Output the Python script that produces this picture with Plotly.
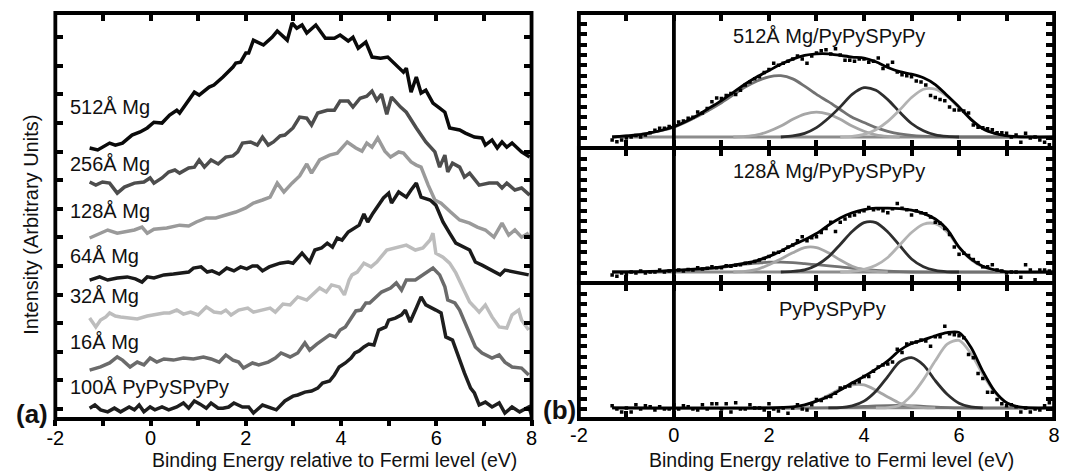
import plotly.graph_objects as go

W, H = 1067, 472
FONT = "Liberation Sans, Arial, Helvetica, sans-serif"

# ---------------- data: panel (a) ----------------
L512 = [(-1.28,9.13),(-1.11,9.06),(-0.86,9.30),(-0.74,9.23),(-0.59,9.30),(-0.39,9.58),(-0.22,9.69),(-0.07,9.83),
        (0.07,10.03),(0.24,10.0),(0.40,10.28),(0.55,10.45),(0.61,10.35),(0.80,10.80),(0.92,11.08),(1.02,10.98),
        (1.23,11.26),(1.33,11.33),(1.52,11.61),(1.73,11.96),(1.79,12.10),(1.89,12.13),(2.00,12.45),(2.06,12.45),
        (2.16,12.90),(2.37,12.73),(2.55,13.0),(2.66,13.22),(2.87,12.90),(2.97,13.50),(3.07,13.32),(3.18,13.43),
        (3.28,13.15),(3.47,13.43),(3.67,12.97),(3.86,12.97),(3.98,13.08),(4.15,12.87),(4.25,13.0),(4.36,12.62),
        (4.52,12.83),(4.65,12.31),(4.83,12.27),(4.98,12.31),(5.10,12.13),(5.31,11.78),(5.37,11.92),(5.47,11.08),
        (5.58,11.61),(5.68,11.05),(5.78,11.15),(5.93,10.70),(6.07,10.52),(6.18,10.38),(6.28,9.83),(6.49,9.76),
        (6.61,9.65),(6.80,9.51),(6.96,9.48),(7.03,9.23),(7.17,9.41),(7.28,9.13),(7.38,9.34),(7.48,9.16),
        (7.59,9.30),(7.79,8.99),(7.96,8.81)]
L256 = [(-1.28,7.94),(-1.15,7.83),(-1.01,7.94),(-0.86,7.90),(-0.70,7.55),(-0.55,7.76),(-0.34,7.90),(-0.14,7.94),
        (-0.01,8.08),(0.07,7.90),(0.24,8.08),(0.38,8.29),(0.51,8.36),(0.61,8.25),(0.80,8.43),(0.92,8.46),
        (1.02,8.71),(1.13,8.46),(1.27,8.71),(1.42,8.57),(1.58,8.81),(1.73,8.85),(1.83,8.99),(1.93,9.30),
        (2.10,9.34),(2.24,9.23),(2.35,9.51),(2.47,9.23),(2.58,9.34),(2.72,9.55),(2.82,9.58),(2.99,9.83),
        (3.13,10.21),(3.28,10.17),(3.38,9.93),(3.51,10.35),(3.71,10.45),(3.86,10.45),(3.98,10.77),(4.15,10.77),
        (4.25,10.56),(4.40,10.87),(4.54,10.94),(4.65,11.12),(4.75,10.80),(4.85,11.01),(4.96,10.31),(5.06,10.91),
        (5.25,10.56),(5.37,10.38),(5.58,9.83),(5.78,9.34),(5.97,8.99),(6.07,8.46),(6.18,8.88),(6.24,8.29),
        (6.34,8.60),(6.49,8.46),(6.59,8.11),(6.70,8.25),(6.90,7.83),(7.11,7.90),(7.28,7.90),(7.38,7.73),
        (7.48,7.90),(7.65,7.66),(7.79,7.73),(7.96,7.48)]
L128 = [(-1.28,5.98),(-0.90,6.26),(-0.70,6.15),(-0.34,6.26),(-0.18,6.36),(-0.07,6.15),(0.07,6.29),(0.34,6.33),
        (0.61,6.43),(0.80,6.40),(0.96,6.54),(1.17,6.68),(1.37,6.68),(1.58,6.78),(1.79,6.89),(2.00,7.03),
        (2.16,7.20),(2.35,7.31),(2.51,7.41),(2.66,7.90),(2.80,7.59),(2.97,7.90),(3.13,8.15),(3.28,8.57),
        (3.38,8.25),(3.55,8.71),(3.76,8.88),(3.92,8.95),(4.13,9.34),(4.31,9.13),(4.44,9.02),(4.54,9.30),
        (4.65,9.16),(4.77,9.48),(4.92,9.02),(5.04,8.81),(5.21,8.99),(5.31,8.95),(5.47,8.64),(5.58,8.53),
        (5.68,8.46),(5.83,7.83),(5.97,7.31),(6.10,7.20),(6.20,7.03),(6.30,6.89),(6.49,6.61),(6.70,6.50),
        (6.86,6.36),(7.03,6.26),(7.21,6.01),(7.38,6.50),(7.52,6.08),(7.65,6.26),(7.79,6.01),(7.94,6.15)]
L64 = [(-1.28,4.51),(-1.07,4.62),(-0.90,4.51),(-0.70,4.58),(-0.49,4.62),(-0.32,4.55),(-0.18,4.44),(-0.07,4.62),
       (0.07,4.58),(0.28,4.69),(0.48,4.72),(0.65,4.76),(0.80,4.79),(0.90,4.93),(1.06,4.97),(1.19,4.79),
       (1.29,4.83),(1.44,4.72),(1.60,4.93),(1.75,4.83),(1.89,4.97),(2.02,4.90),(2.14,5.0),(2.24,5.0),
       (2.35,4.83),(2.49,4.97),(2.58,5.03),(2.72,5.10),(2.89,5.14),(2.99,5.10),(3.18,5.45),(3.34,5.14),
       (3.45,5.56),(3.59,5.63),(3.71,5.80),(3.82,5.66),(3.92,5.98),(4.02,5.91),(4.15,6.19),(4.27,6.33),
       (4.38,6.43),(4.48,6.82),(4.56,6.54),(4.67,6.85),(4.89,7.38),(5.00,7.55),(5.06,7.20),(5.21,7.59),
       (5.37,7.41),(5.47,7.66),(5.58,7.90),(5.68,7.41),(5.87,7.31),(5.99,7.13),(6.14,6.54),(6.28,6.15),
       (6.41,5.80),(6.70,5.56),(6.82,5.14),(6.96,5.03),(7.17,4.86),(7.34,4.69),(7.44,4.86),(7.69,4.79),
       (7.94,4.69)]
L32 = [(-1.28,3.18),(-1.15,2.87),(-1.05,3.11),(-0.94,3.22),(-0.86,3.36),(-0.74,3.25),(-0.63,3.22),(-0.45,3.18),
       (-0.28,3.15),(-0.07,3.25),(0.07,3.29),(0.28,3.36),(0.40,3.36),(0.55,3.46),(0.69,3.32),(0.84,3.39),
       (1.00,3.29),(1.17,3.57),(1.33,3.39),(1.48,3.36),(1.58,3.46),(1.69,3.29),(1.85,3.46),(2.04,3.53),
       (2.16,3.39),(2.35,3.46),(2.51,3.53),(2.62,3.39),(2.78,3.67),(2.93,3.64),(3.09,3.92),(3.28,3.81),
       (3.45,4.09),(3.55,4.23),(3.69,4.09),(3.80,4.34),(3.96,4.27),(4.07,3.99),(4.17,4.51),(4.23,4.69),
       (4.34,4.79),(4.48,5.10),(4.63,4.97),(4.75,5.14),(4.96,5.56),(5.25,5.66),(5.37,5.73),(5.56,5.56),
       (5.72,5.63),(5.87,5.91),(5.93,6.15),(5.99,5.45),(6.14,5.31),(6.28,5.10),(6.41,4.76),(6.55,4.27),
       (6.70,3.74),(6.80,3.57),(6.90,3.39),(7.03,3.64),(7.17,3.22),(7.32,2.87),(7.48,2.83),(7.59,3.29),
       (7.73,3.46),(7.79,3.11),(7.94,2.76)]
L16 = [(-1.28,1.36),(-1.05,1.47),(-0.86,1.61),(-0.70,1.82),(-0.59,1.71),(-0.43,1.47),(-0.28,1.64),(-0.14,1.54),
       (-0.01,1.78),(0.13,1.64),(0.28,1.75),(0.48,1.71),(0.69,1.78),(0.90,1.75),(1.11,1.82),(1.27,1.75),
       (1.44,1.64),(1.58,1.89),(1.73,1.71),(1.85,1.64),(1.95,1.43),(2.14,1.61),(2.27,1.54),(2.47,1.64),
       (2.62,1.78),(2.74,1.96),(2.93,1.82),(3.09,1.96),(3.24,2.31),(3.34,2.06),(3.49,2.27),(3.61,2.41),
       (3.76,2.59),(3.88,2.52),(3.98,2.76),(4.09,2.87),(4.19,3.11),(4.31,3.43),(4.42,3.46),(4.52,3.71),
       (4.60,3.71),(4.73,3.92),(4.85,4.09),(5.04,4.23),(5.16,4.41),(5.27,4.16),(5.37,4.51),(5.56,4.51),
       (5.72,4.69),(5.87,4.86),(5.93,4.93),(6.07,4.69),(6.18,4.27),(6.24,3.81),(6.39,3.71),(6.49,3.46),
       (6.61,3.01),(6.72,2.59),(6.82,2.17),(6.96,1.96),(7.17,1.78),(7.32,1.89),(7.44,1.64),(7.59,1.47),
       (7.79,1.43),(7.94,1.19)]
L100 = [(-1.28,0.03),(-1.17,0.14),(-1.05,-0.03),(-0.90,-0.10),(-0.76,0.03),(-0.63,-0.10),(-0.45,0.07),(-0.34,-0.03),
        (-0.24,0.14),(-0.14,-0.10),(-0.01,0.07),(0.09,-0.03),(0.24,0.07),(0.38,-0.03),(0.55,0.07),(0.69,0.21),
        (0.80,0.03),(0.92,0.28),(1.04,0.17),(1.17,0.03),(1.27,0.21),(1.42,0.03),(1.52,0.03),(1.64,0.07),
        (1.75,0.21),(1.93,0.07),(2.06,0.07),(2.16,-0.14),(2.35,0.14),(2.51,0.03),(2.64,-0.03),(2.82,0.28),
        (2.99,0.45),(3.09,0.49),(3.24,0.59),(3.38,0.63),(3.51,0.73),(3.61,0.91),(3.76,0.98),(3.86,1.19),
        (3.96,1.47),(4.09,1.61),(4.21,1.78),(4.29,1.96),(4.38,2.03),(4.48,2.17),(4.58,2.27),(4.69,2.24),
        (4.79,2.76),(4.94,2.87),(5.00,3.11),(5.14,3.18),(5.27,3.29),(5.35,3.46),(5.45,3.04),(5.58,3.53),
        (5.68,3.92),(5.78,3.64),(5.89,3.53),(5.99,3.46),(6.10,3.36),(6.20,2.52),(6.34,2.41),(6.49,1.71),
        (6.59,1.26),(6.72,0.73),(6.80,0.56),(6.90,0.14),(7.03,0.24),(7.17,0.07),(7.32,0.21),(7.44,-0.14),
        (7.59,0.07),(7.75,-0.10),(7.94,0.07),(8.00,-0.21)]

LEFT_SERIES = [L512, L256, L128, L64, L32, L16, L100]
LEFT_COLORS = ["#0a0a0a", "#4d4d4d", "#9a9a9a", "#1a1a1a", "#bdbdbd", "#6b6b6b", "#1e1e1e"]
LEFT_LABELS = ["512Å Mg", "256Å Mg", "128Å Mg", "64Å Mg", "32Å Mg", "16Å Mg", "100Å PyPySPyPy"]
LEFT_LABEL_Y = [10.55, 8.56, 6.92, 5.34, 3.95, 2.34, 0.76]

# ---------------- data: panel (b) ----------------
E_DOTS = [-1.3,-1.2,-1.1,-1.0,-0.9,-0.8,-0.7,-0.6,-0.5,-0.4,
          -0.3,-0.2,-0.1,0.0,0.1,0.2,0.3,0.4,0.5,0.6,
          0.7,0.8,0.9,1.0,1.1,1.2,1.3,1.4,1.5,1.6,
          1.7,1.8,1.9,2.0,2.1,2.2,2.3,2.4,2.5,2.6,
          2.7,2.8,2.9,3.0,3.1,3.2,3.3,3.4,3.5,3.6,
          3.7,3.8,3.9,4.0,4.1,4.2,4.3,4.4,4.5,4.6,
          4.7,4.8,4.9,5.0,5.1,5.2,5.3,5.4,5.5,5.6,
          5.7,5.8,5.9,6.0,6.1,6.2,6.3,6.4,6.5,6.6,
          6.7,6.8,6.9,7.0,7.1,7.2,7.3,7.4,7.5,7.6,
          7.7,7.8,7.9]
DOTS_512 = [-0.2,-0.35,-0.2,0.0,0.1,0.25,0.1,0.3,0.5,0.75,
            0.95,0.95,1.1,1.3,1.55,1.65,1.9,2.0,2.5,2.4,
            2.85,3.5,3.85,3.8,4.1,4.3,4.2,4.6,5.1,5.4,
            5.7,5.9,6.3,6.6,7.2,7.0,7.2,7.4,7.6,7.9,
            7.6,7.2,7.9,8.2,8.4,8.5,8.1,8.6,8.0,7.5,
            7.5,7.4,7.6,7.6,7.3,7.4,7.7,6.7,7.0,7.3,
            6.35,6.1,6.0,5.9,5.5,5.4,5.1,4.1,3.9,3.7,
            3.6,3.0,2.7,2.7,2.6,2.4,1.25,1.05,1.0,0.9,
            0.8,0.5,0.5,0.45,0.1,0.3,-0.4,0.45,0.0,0.1,
            -0.2,-0.4,-0.65]
DOTS_128 = [-0.2,-0.3,0.0,-0.1,0.1,0.0,0.2,0.0,0.1,0.1,
            0.3,0.1,0.2,0.2,0.3,0.2,0.35,0.3,0.5,0.4,
            0.45,0.6,0.5,0.5,0.7,0.65,0.75,0.8,0.95,1.0,
            1.1,1.25,1.4,1.6,1.9,2.0,2.2,2.5,2.7,3.1,
            3.5,3.1,3.4,3.5,3.9,4.3,4.9,4.0,4.9,5.2,
            5.5,5.6,5.9,6.0,6.3,6.1,6.2,6.0,5.8,6.2,
            6.7,6.25,6.1,5.6,6.0,5.8,5.7,5.4,4.9,4.8,
            4.3,3.7,2.5,1.8,1.9,1.7,1.3,1.0,0.6,0.6,
            0.8,0.3,0.2,0.0,0.1,0.1,-0.4,0.8,0.3,-0.65,
            0.3,0.3,0.2]
DOTS_PY = [0.3,0.0,-0.3,0.1,-0.3,0.4,0.0,0.3,0.2,-0.1,
           0.2,0.0,0.0,0.4,0.0,0.3,0.2,0.0,-0.1,0.4,
           0.0,0.5,0.5,0.0,0.5,-0.3,0.6,0.0,0.0,0.4,
           0.1,0.1,-0.1,0.5,0.0,-0.2,0.1,-0.4,0.1,0.4,
           0.0,-0.1,0.4,0.9,0.8,1.1,1.2,1.5,2.0,2.1,
           2.2,2.5,2.6,3.1,3.1,3.6,4.0,4.2,4.3,4.5,
           5.7,5.4,6.2,6.3,6.4,6.6,6.5,6.0,6.9,6.9,
           7.9,7.2,7.1,7.0,6.8,5.2,4.9,3.4,2.9,1.6,
           1.6,0.9,0.5,0.3,0.4,0.2,-0.3,0.1,-0.3,0.0,
           -0.1,0.3,0.6]

BASELINE = [(-1.3,0.1),(8.0,0.1)]

FIT_512 = [(-1.3,0.1),(-1.0,0.2),(-0.75,0.3),(-0.5,0.5),(-0.25,0.75),(0.0,1.1),(0.25,1.6),(0.5,2.2),(0.75,2.9),
           (1.0,3.6),(1.25,4.4),(1.5,5.2),(1.75,5.9),(2.0,6.5),(2.25,7.1),(2.5,7.6),(2.75,7.95),(3.0,8.1),
           (3.25,8.1),(3.5,7.95),(3.75,7.8),(4.0,7.7),(4.25,7.35),(4.5,6.8),(4.75,6.4),(5.0,6.15),(5.25,5.8),
           (5.5,5.15),(5.75,4.1),(6.0,3.0),(6.25,1.8),(6.5,0.9),(6.75,0.45),(7.0,0.2),(7.5,0.1),(8.0,0.1)]
BROAD_512 = [(-1.3,0.1),(-1.0,0.2),(-0.5,0.5),(0.0,1.05),(0.5,2.1),(1.0,3.4),(1.5,4.9),(1.75,5.5),(2.0,5.9),
             (2.25,6.0),(2.5,5.7),(2.75,5.0),(3.0,4.2),(3.25,3.5),(3.5,2.75),(3.75,2.0),(4.0,1.5),(4.25,1.0),
             (4.5,0.65),(4.75,0.4),(5.0,0.25),(5.5,0.12),(6.0,0.1),(8.0,0.1)]
C2_512 = [(1.25,0.1),(1.5,0.15),(1.75,0.3),(2.0,0.65),(2.25,1.15),(2.5,1.8),(2.75,2.3),(3.0,2.5),(3.25,2.3),
          (3.5,1.8),(3.75,1.15),(4.0,0.65),(4.25,0.3),(4.5,0.15),(4.75,0.1)]
C3_512 = [(2.25,0.1),(2.5,0.2),(2.75,0.45),(3.0,1.0),(3.25,1.9),(3.5,3.0),(3.75,4.2),(4.0,4.85),(4.25,4.6),
          (4.5,3.7),(4.75,2.5),(5.0,1.4),(5.25,0.7),(5.5,0.3),(5.75,0.15),(6.0,0.1)]
C4_512 = [(3.5,0.1),(3.75,0.15),(4.0,0.35),(4.25,0.8),(4.5,1.6),(4.75,2.7),(5.0,3.9),(5.25,4.7),(5.5,4.7),
          (5.75,4.0),(6.0,2.9),(6.25,1.8),(6.5,0.95),(6.75,0.45),(7.0,0.2),(7.25,0.1)]

FIT_128 = [(-1.3,0.1),(-0.5,0.15),(0.0,0.25),(0.5,0.4),(1.0,0.6),(1.5,0.95),(1.75,1.2),(2.0,1.6),(2.25,2.1),
           (2.5,2.7),(2.75,3.2),(3.0,3.8),(3.25,4.6),(3.5,5.3),(3.75,5.8),(4.0,6.1),(4.25,6.25),(4.5,6.25),
           (4.75,6.2),(5.0,6.05),(5.25,5.75),(5.5,5.2),(5.75,4.2),(6.0,2.5),(6.25,1.35),(6.5,0.65),(6.75,0.3),
           (7.0,0.12),(8.0,0.1)]
BROAD_128 = [(-1.3,0.1),(0.0,0.15),(0.5,0.3),(1.0,0.55),(1.5,0.85),(1.75,0.95),(2.0,1.05),(2.25,1.05),(2.5,1.0),
             (2.75,0.9),(3.0,0.8),(3.5,0.6),(4.0,0.35),(4.5,0.18),(5.0,0.1),(8.0,0.1)]
C2_128 = [(1.25,0.1),(1.5,0.15),(1.75,0.35),(2.0,0.8),(2.25,1.35),(2.5,1.95),(2.75,2.45),(3.0,2.45),(3.25,1.95),
          (3.5,1.25),(3.75,0.65),(4.0,0.3),(4.25,0.15),(4.5,0.1)]
C3_128 = [(2.25,0.1),(2.5,0.15),(2.75,0.3),(3.0,0.75),(3.25,1.55),(3.5,2.75),(3.75,4.0),(4.0,4.85),(4.25,4.85),
          (4.5,3.95),(4.75,2.65),(5.0,1.35),(5.25,0.6),(5.5,0.25),(5.75,0.12),(6.0,0.1)]
C4_128 = [(3.5,0.1),(3.75,0.15),(4.0,0.35),(4.25,0.75),(4.5,1.5),(4.75,2.7),(5.0,3.9),(5.25,4.7),(5.5,4.75),
          (5.75,3.95),(6.0,2.45),(6.25,1.3),(6.5,0.6),(6.75,0.28),(7.0,0.12),(7.25,0.1)]

FIT_PY = [(-1.3,0.1),(2.0,0.1),(2.5,0.2),(2.75,0.4),(3.0,0.75),(3.25,1.2),(3.5,1.8),(3.75,2.5),(4.0,3.1),
          (4.25,3.8),(4.5,4.6),(4.75,5.6),(5.0,6.25),(5.25,6.6),(5.5,7.0),(5.75,7.3),(6.0,7.3),(6.25,5.9),
          (6.5,3.6),(6.75,1.7),(7.0,0.6),(7.25,0.2),(7.5,0.1),(8.0,0.1)]
BROAD_PY = [(-1.3,0.1),(3.5,0.12),(4.25,0.3),(4.75,0.35),(5.25,0.25),(6.0,0.1),(8.0,0.1)]
C2_PY = [(2.25,0.1),(2.5,0.15),(2.75,0.35),(3.0,0.75),(3.25,1.3),(3.5,1.9),(3.75,2.3),(4.0,2.3),(4.25,1.8),
         (4.5,1.15),(4.75,0.55),(5.0,0.25),(5.25,0.12),(5.5,0.1)]
C3_PY = [(3.25,0.1),(3.5,0.12),(3.75,0.3),(4.0,0.75),(4.25,1.7),(4.5,3.1),(4.75,4.5),(5.0,4.9),(5.25,4.2),
         (5.5,2.7),(5.75,1.4),(6.0,0.55),(6.25,0.2),(6.5,0.1)]
C4_PY = [(4.25,0.1),(4.5,0.12),(4.75,0.35),(5.0,1.3),(5.25,2.8),(5.5,4.6),(5.75,6.2),(6.0,6.55),(6.25,5.3),
         (6.5,3.3),(6.75,1.6),(7.0,0.6),(7.25,0.2),(7.5,0.1)]

RIGHT_PANELS = [
    dict(name="512Å Mg/PyPySPyPy", dots=DOTS_512, fit=FIT_512, broad=BROAD_512, c2=C2_512, c3=C3_512, c4=C4_512, lx=3.27, ly=9.85),
    dict(name="128Å Mg/PyPySPyPy", dots=DOTS_128, fit=FIT_128, broad=BROAD_128, c2=C2_128, c3=C3_128, c4=C4_128, lx=3.27, ly=9.85),
    dict(name="PyPySPyPy", dots=DOTS_PY, fit=FIT_PY, broad=BROAD_PY, c2=C2_PY, c3=C3_PY, c4=C4_PY, lx=3.33, ly=9.55),
]
COMP_COLORS = dict(base="#8c8c8c", broad="#727272", c2="#a6a6a6", c3="#2e2e2e", c4="#b3b3b3", fit="#000000")

X_TICKS = [-2, -1, 0, 1, 2, 3, 4, 5, 6, 7, 8]
X_TICKTEXT = ["-2", "", "0", "", "2", "", "4", "", "6", "", "8"]
LEFT_YTICKS = list(range(0, 14))
RIGHT_YTICKS = list(range(0, 12))

# ---------------- figure ----------------
fig = go.Figure()

def xy(pairs):
    return [p[0] for p in pairs], [p[1] for p in pairs]

for ser, col in zip(LEFT_SERIES, LEFT_COLORS):
    x, y = xy(ser)
    fig.add_trace(go.Scatter(x=x, y=y, mode="lines", line=dict(color=col, width=3.5),
                             xaxis="x", yaxis="y", showlegend=False, hoverinfo="skip"))
# invisible anchor trace so the top overlay axis of panel (a) is drawn
fig.add_trace(go.Scatter(x=[-2], y=[0], mode="markers", marker=dict(opacity=0),
                         xaxis="x5", yaxis="y", showlegend=False, hoverinfo="skip"))

for i, pn in enumerate(RIGHT_PANELS):
    xa, ya = "x%d" % (i + 2), "y%d" % (i + 2)
    for key in ["base", "broad", "c2", "c3", "c4", "fit"]:
        pairs = BASELINE if key == "base" else pn[key]
        x, y = xy(pairs)
        fig.add_trace(go.Scatter(x=x, y=y, mode="lines",
                                 line=dict(color=COMP_COLORS[key], width=2.8, shape="spline", smoothing=0.8),
                                 xaxis=xa, yaxis=ya, showlegend=False, hoverinfo="skip"))
    fig.add_trace(go.Scatter(x=E_DOTS, y=pn["dots"], mode="markers",
                             marker=dict(symbol="square", size=3.5, color="#000000"),
                             xaxis=xa, yaxis=ya, showlegend=False, hoverinfo="skip"))

# ---------------- axes ----------------
def fx(p):
    return p / W

def fy(p):
    return 1 - p / H

axis_common = dict(showgrid=False, showline=False, tickcolor="black", tickwidth=3.5)
tickfont = dict(family=FONT, size=20, color="black")

layout = dict(
    width=W, height=H, paper_bgcolor="white", plot_bgcolor="white",
    margin=dict(l=0, r=0, t=0, b=0), showlegend=False,
    xaxis=dict(domain=[fx(47), fx(530)], range=[-2, 8], anchor="y", tickvals=X_TICKS, ticktext=X_TICKTEXT,
               ticks="outside", ticklen=6, zeroline=False, tickfont=tickfont,
               ticklabelstandoff=-5, **axis_common),
    xaxis5=dict(overlaying="x", side="top", anchor="y", range=[-2, 8], tickvals=X_TICKS,
                ticks="inside", ticklen=8, showticklabels=False, zeroline=False, **axis_common),
    yaxis=dict(domain=[fy(419), fy(13)], range=[-0.35, 13.85], anchor="x", tickvals=LEFT_YTICKS,
               ticks="inside", ticklen=8, mirror="ticks", showticklabels=False, zeroline=False, **axis_common),
)
right_y_domains = [[fy(148), fy(13)], [fy(283), fy(148)], [fy(419), fy(283)]]
for i in range(3):
    n = i + 2
    layout["xaxis%d" % n] = dict(domain=[fx(578), fx(1060)], range=[-2, 8], anchor="y%d" % n,
                                 tickvals=X_TICKS, ticktext=X_TICKTEXT, ticks="inside", ticklen=8,
                                 mirror="ticks", zeroline=False,
                                 showticklabels=(i == 2), tickfont=tickfont, ticklabelstandoff=2,
                                 **axis_common)
    layout["yaxis%d" % n] = dict(domain=right_y_domains[i], range=[-0.96, 12.04], anchor="x%d" % n,
                                 tickvals=RIGHT_YTICKS, ticks="inside", ticklen=8, mirror="ticks",
                                 showticklabels=False, zeroline=False, **axis_common)
fig.update_layout(**layout)

# frames (axis boxes) and the vertical x = 0 line of panel (b)
shapes = [dict(type="rect", xref="x domain", yref="y domain", x0=0, x1=1, y0=0, y1=1,
               line=dict(color="black", width=3.8), layer="above")]
for i in range(3):
    n = i + 2
    shapes.append(dict(type="rect", xref="x%d domain" % n, yref="y%d domain" % n, x0=0, x1=1, y0=0, y1=1,
                       line=dict(color="black", width=3.8), layer="above"))
shapes.append(dict(type="line", xref="x4", yref="paper", x0=0, x1=0, y0=fy(419), y1=fy(13),
                   line=dict(color="black", width=3.8), layer="above"))
fig.update_layout(shapes=shapes)

# ---------------- text ----------------
ann = []
txt = dict(family=FONT, size=20, color="#111111")
for lab, yv in zip(LEFT_LABELS, LEFT_LABEL_Y):
    ann.append(dict(text=lab, x=-1.73, y=yv, xref="x", yref="y", xanchor="left", yanchor="middle",
                    showarrow=False, font=txt))
for i, pn in enumerate(RIGHT_PANELS):
    ann.append(dict(text=pn["name"], x=pn["lx"], y=pn["ly"], xref="x%d" % (i + 2), yref="y%d" % (i + 2),
                    xanchor="center", yanchor="middle", showarrow=False, font=txt))
ann.append(dict(text="<b>(a)</b>", x=fx(23), y=fy(414), xref="paper", yref="paper", xanchor="center",
                yanchor="middle", showarrow=False, font=dict(family=FONT, size=26, color="#111111")))
ann.append(dict(text="<b>(b)</b>", x=fx(558), y=fy(410), xref="paper", yref="paper", xanchor="center",
                yanchor="middle", showarrow=False, font=dict(family=FONT, size=26, color="#111111")))
ann.append(dict(text="Intensity (Arbitrary Units)", x=fx(22), y=fy(225), xref="paper", yref="paper",
                xanchor="center", yanchor="middle", textangle=-90, showarrow=False,
                font=dict(family=FONT, size=20, color="#111111")))
for cx in (330, 834):
    ann.append(dict(text="Binding Energy relative to Fermi level (eV)", x=fx(cx), y=0, xref="paper",
                    yref="paper", xanchor="center", yanchor="bottom", showarrow=False, borderpad=0,
                    font=dict(family=FONT, size=19.5, color="#111111")))
fig.update_layout(annotations=ann)

# the page's default 8 px body margin would shift the figure inside the 1067x472 window
fig.write_html("out.html", config={"displayModeBar": False},
               post_script="document.body.style.margin='0px';document.body.style.overflow='hidden';")
